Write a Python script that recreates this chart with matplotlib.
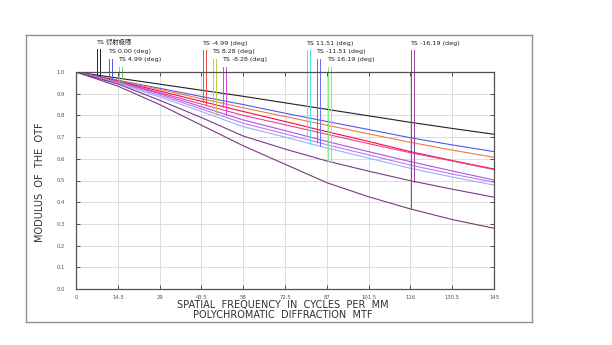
import numpy as np
import matplotlib
matplotlib.use("Agg")
import matplotlib.pyplot as plt
from matplotlib.lines import Line2D

# spatial frequency samples (cycles/mm) and MTF curves
freq = [0, 14.5, 29, 43.5, 58, 72.5, 87, 101.5, 116, 130.5, 145]

mtf_diff = [1.0, 0.972, 0.944, 0.916, 0.888, 0.858, 0.828, 0.798, 0.768, 0.740, 0.713]
mtf_blue = [1.0, 0.962, 0.925, 0.887, 0.850, 0.810, 0.772, 0.735, 0.697, 0.664, 0.633]
mtf_orange = [1.0, 0.960, 0.920, 0.877, 0.835, 0.795, 0.755, 0.715, 0.676, 0.640, 0.607]
mtf_red = [1.0, 0.958, 0.912, 0.865, 0.818, 0.772, 0.725, 0.680, 0.633, 0.592, 0.553]
mtf_pink = [1.0, 0.955, 0.905, 0.852, 0.800, 0.757, 0.713, 0.670, 0.628, 0.590, 0.550]
mtf_violet = [1.0, 0.955, 0.900, 0.840, 0.779, 0.730, 0.680, 0.633, 0.587, 0.544, 0.502]
mtf_lavender = [1.0, 0.952, 0.893, 0.830, 0.764, 0.715, 0.665, 0.618, 0.571, 0.530, 0.492]
mtf_lightblue = [1.0, 0.948, 0.885, 0.818, 0.748, 0.700, 0.650, 0.603, 0.556, 0.516, 0.479]
mtf_purple = [1.0, 0.945, 0.870, 0.790, 0.705, 0.645, 0.590, 0.543, 0.499, 0.460, 0.423]
mtf_plum = [1.0, 0.935, 0.850, 0.755, 0.660, 0.575, 0.490, 0.425, 0.369, 0.320, 0.280]

curves = [mtf_diff, mtf_blue, mtf_orange, mtf_red, mtf_pink,
          mtf_violet, mtf_lavender, mtf_lightblue, mtf_purple, mtf_plum]
curve_colors = ["#202020", "#4a5cf0", "#f07a40", "#e8104a", "#f0408a",
                "#b050e8", "#c078f0", "#9ab0f8", "#7a3a8a", "#7a3a7a"]

# legend entries: label, colour, which two curves its markers drop to
field_labels = ["TS 衍射极限", "TS 0.00 (deg)", "TS 4.99 (deg)",
                "TS -4.99 (deg)", "TS 8.28 (deg)", "TS -8.28 (deg)",
                "TS 11.51 (deg)", "TS -11.51 (deg)", "TS 16.19 (deg)",
                "TS -16.19 (deg)"]
field_colors = ["#202020", "#4a5cf0", "#70d070", "#f04848", "#c8c848",
                "#e040e0", "#50e0e8", "#6a6af0", "#80ee80", "#9a409a"]
field_curves = [(0, 0), (1, 1), (2, 3), (3, 4), (5, 6),
                (3, 5), (5, 7), (6, 7), (8, 8), (9, 8)]

xticks = [0, 14.5, 29, 43.5, 58, 72.5, 87, 101.5, 116, 130.5, 145]
xtick_labels = ["0", "14.5", "29", "43.5", "58", "72.5", "87", "101.5", "116", "130.5", "145"]
yticks = [0.0, 0.1, 0.2, 0.3, 0.4, 0.5, 0.6, 0.7, 0.8, 0.9, 1.0]

W, H = 612, 345


def fpx(x, y):
    return x / W, 1 - y / H


fig = plt.figure(figsize=(6.12, 3.45), dpi=100)
fig.patch.set_facecolor("white")
ax = fig.add_axes([76 / W, 1 - 289 / H, 418 / W, 217 / H])

for c, col in zip(curves, curve_colors):
    ax.plot(freq, c, color=col, lw=0.8)

ax.set_xlim(0, 145)
ax.set_ylim(0, 1.0)
ax.set_xticks(xticks)
ax.set_xticklabels(xtick_labels)
ax.set_yticks(yticks)
ax.set_yticklabels([f"{v:.1f}" for v in yticks])
ax.grid(True, color="#dcdcdc", lw=0.7)
ax.set_axisbelow(True)
ax.tick_params(direction="in", length=3, width=0.7, colors="#505050",
               labelsize=3.8, top=True, right=True)
ax.tick_params(axis="x", pad=4)
ax.tick_params(axis="y", pad=8)
for s in ax.spines.values():
    s.set_color("#505050")
    s.set_linewidth(0.9)

# legend labels above the plot, with marker lines down to the curves
label_pos = [(96.5, 42), (108.5, 51.5), (118.5, 59.5),
             (202, 43), (212.5, 51.5), (222.5, 60),
             (306.5, 43), (316.5, 51.5), (327.5, 60),
             (410.5, 43)]
to_f = lambda px: (px - 76) * 145 / 418
to_m = lambda py: (289 - py) / 217
for lab, col, (i, j), (lx, ly) in zip(field_labels, field_colors, field_curves, label_pos):
    fig.text(*fpx(lx, ly), lab, fontsize=4.6, va="center", ha="left",
             color="#202020", family=["DejaVu Sans", "Noto Sans CJK SC"])
    for k, idx in enumerate((i, j)):
        f = to_f(lx + 0.5 + k * 3.3)
        y_end = np.interp(f, freq, curves[idx])
        ax.add_line(Line2D([f, f], [to_m(ly + 7), y_end], color=col,
                           lw=0.7, clip_on=False))

fig.text(*fpx(40, 182), "MODULUS  OF  THE  OTF", rotation=90, fontsize=7,
         ha="center", va="center", color="#303030")
fig.text(*fpx(283, 305), "SPATIAL  FREQUENCY  IN  CYCLES  PER  MM", fontsize=7,
         ha="center", va="center", color="#303030")
fig.text(*fpx(283, 315.5), "POLYCHROMATIC  DIFFRACTION  MTF", fontsize=7,
         ha="center", va="center", color="#303030")

# outer frame
x0, y0 = fpx(26, 35)
x1, y1 = fpx(532, 322)
for xs, ys in [([x0, x1], [y0, y0]), ([x0, x1], [y1, y1]),
               ([x0, x0], [y0, y1]), ([x1, x1], [y0, y1])]:
    fig.add_artist(Line2D(xs, ys, color="#909090", lw=1.0, transform=fig.transFigure))

fig.savefig("out.png", dpi=100, facecolor="white")
